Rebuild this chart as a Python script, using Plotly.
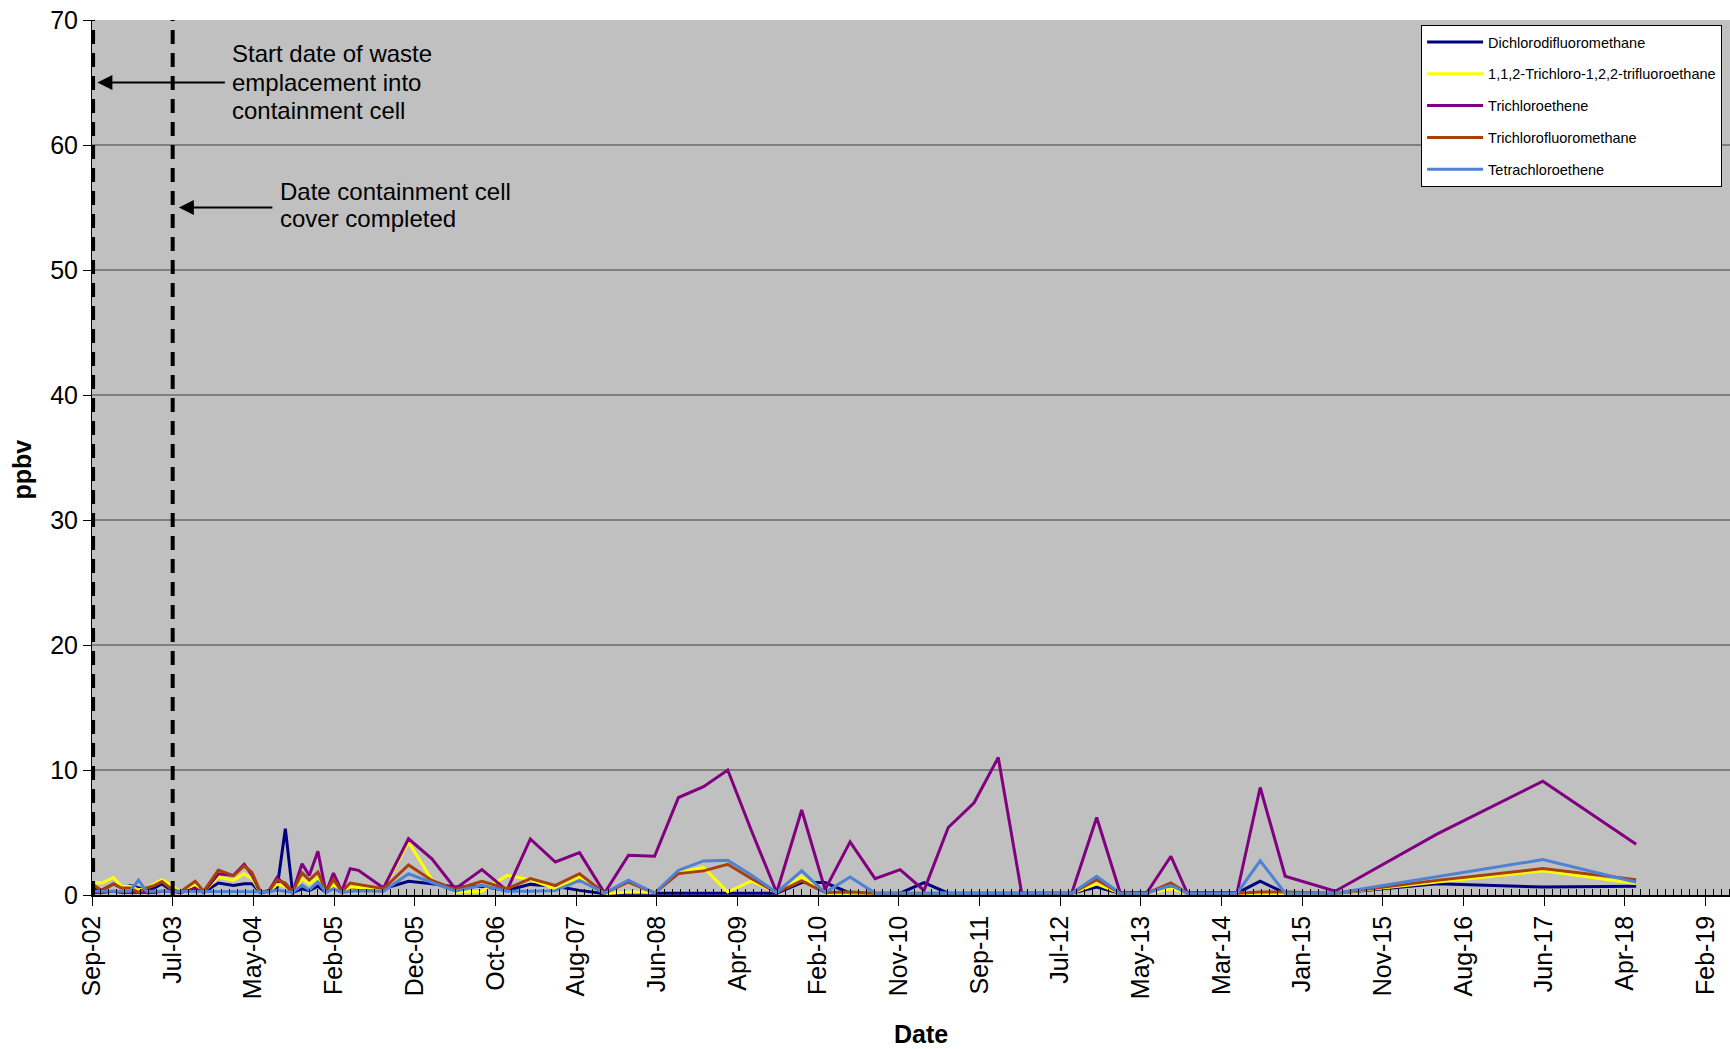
import plotly.graph_objects as go

# Sampling dates (shared by all five compounds)
dates = [
    "2002-09-11", "2002-10-18", "2002-11-30", "2002-12-31", "2003-01-31",
    "2003-03-03", "2003-04-01", "2003-04-30", "2003-05-29", "2003-07-02",
    "2003-08-05", "2003-09-30", "2003-10-31", "2003-12-25", "2004-02-19",
    "2004-03-30", "2004-04-28", "2004-05-29", "2004-06-29", "2004-07-30",
    "2004-08-30", "2004-09-26", "2004-10-31", "2004-11-27", "2004-12-29",
    "2005-01-28", "2005-02-25", "2005-03-28", "2005-04-28", "2005-05-29",
    "2005-08-30", "2005-12-01", "2006-02-26", "2006-05-24", "2006-08-31",
    "2006-12-02", "2007-02-27", "2007-05-31", "2007-08-29", "2007-11-30",
    "2008-02-27", "2008-06-03", "2008-08-31", "2008-12-02", "2009-03-02",
    "2009-05-30", "2009-08-31", "2009-12-02", "2010-02-27", "2010-05-31",
    "2010-09-01", "2010-12-03", "2011-03-02", "2011-05-31", "2011-09-04",
    "2011-12-03", "2012-02-28", "2012-05-31", "2012-09-01", "2012-12-03",
    "2013-02-28", "2013-06-08", "2013-09-05", "2013-11-04", "2014-02-05",
    "2014-05-09", "2014-08-03", "2014-11-04", "2015-05-09", "2016-05-21",
    "2017-06-19", "2018-06-01",
]

# Concentrations in ppbv
dichlorodifluoromethane = [
    0.48, 0.40, 0.88, 0.56, 0.75, 0.56, 0.40, 0.56, 0.88, 0.40,
    0.20, 0.70, 0.20, 0.96, 0.77, 0.90, 0.90, 0.20, 0.35, 0.50,
    5.30, 0.20, 0.50, 0.35, 0.70, 0.20, 0.60, 0.20, 0.60, 0.55,
    0.50, 1.10, 0.90, 0.64, 0.70, 0.37, 0.85, 0.70, 0.37, 0.10,
    0.15, 0.15, 0.15, 0.15, 0.15, 0.15, 0.15, 1.00, 1.00, 0.15,
    0.15, 0.15, 0.99, 0.15, 0.15, 0.15, 0.15, 0.15, 0.15, 0.64,
    0.15, 0.15, 0.64, 0.15, 0.15, 0.15, 1.10, 0.15, 0.15, 0.90,
    0.64, 0.70,
]
trichlorotrifluoroethane = [
    1.01, 0.96, 1.40, 0.67, 0.69, 0.40, 0.56, 0.88, 1.23, 0.83,
    0.25, 0.85, 0.25, 1.44, 1.17, 1.70, 1.30, 0.20, 0.25, 0.85,
    0.70, 0.20, 1.30, 0.90, 1.39, 0.20, 0.77, 0.20, 0.64, 0.60,
    0.50, 4.24, 1.20, 0.24, 0.29, 1.57, 1.23, 0.50, 1.44, 0.10,
    0.24, 0.20, 1.80, 2.20, 0.24, 1.12, 0.20, 1.50, 0.15, 0.15,
    0.15, 0.15, 0.15, 0.15, 0.15, 0.15, 0.15, 0.15, 0.15, 0.90,
    0.15, 0.15, 0.50, 0.15, 0.15, 0.15, 0.15, 0.15, 0.15, 1.04,
    1.93, 0.91,
]
trichloroethene = [
    0.20, 0.20, 0.30, 0.20, 0.20, 0.20, 0.20, 0.20, 0.30, 0.30,
    0.20, 0.50, 0.20, 1.70, 1.57, 2.45, 1.60, 0.20, 0.30, 1.39,
    0.80, 0.20, 2.50, 1.57, 3.50, 0.20, 1.76, 0.30, 2.10, 1.97,
    0.56, 4.50, 2.90, 0.50, 2.03, 0.37, 4.48, 2.64, 3.39, 0.15,
    3.18, 3.10, 7.80, 8.66, 10.00, 5.10, 0.20, 6.80, 0.43, 4.25,
    1.31, 2.03, 0.37, 5.40, 7.38, 11.00, 0.16, 0.15, 0.15, 6.20,
    0.20, 0.20, 3.10, 0.20, 0.20, 0.20, 8.60, 1.50, 0.30, 4.87,
    9.10, 4.06,
]
trichlorofluoromethane = [
    0.88, 0.35, 0.88, 0.56, 0.56, 0.21, 0.56, 0.75, 1.07, 0.48,
    0.25, 1.10, 0.30, 2.00, 1.55, 2.32, 1.80, 0.25, 0.30, 1.20,
    0.96, 0.25, 1.78, 1.20, 1.84, 0.25, 1.25, 0.25, 0.96, 0.85,
    0.50, 2.40, 1.17, 0.45, 1.09, 0.50, 1.31, 0.77, 1.70, 0.15,
    1.04, 0.16, 1.71, 1.93, 2.46, 1.30, 0.20, 1.12, 0.20, 0.24,
    0.15, 0.15, 0.15, 0.15, 0.15, 0.15, 0.15, 0.15, 0.15, 1.23,
    0.15, 0.15, 0.96, 0.15, 0.15, 0.15, 0.24, 0.24, 0.15, 1.17,
    2.11, 1.23,
]
tetrachloroethene = [
    0.30, 0.30, 0.30, 0.30, 0.30, 1.20, 0.30, 0.30, 0.30, 0.30,
    0.25, 0.25, 0.25, 0.25, 0.25, 0.25, 0.25, 0.25, 0.25, 0.40,
    0.30, 0.20, 0.80, 0.40, 1.05, 0.20, 0.50, 0.20, 0.30, 0.35,
    0.30, 1.70, 1.00, 0.30, 0.77, 0.30, 0.30, 0.35, 1.17, 0.15,
    1.18, 0.16, 1.98, 2.73, 2.78, 1.58, 0.20, 1.93, 0.20, 1.44,
    0.15, 0.15, 0.15, 0.15, 0.15, 0.15, 0.15, 0.15, 0.15, 1.50,
    0.15, 0.15, 0.78, 0.15, 0.15, 0.15, 2.73, 0.15, 0.15, 1.44,
    2.83, 1.02,
]

series_names = [
    "Dichlorodifluoromethane",
    "1,1,2-Trichloro-1,2,2-trifluoroethane",
    "Trichloroethene",
    "Trichlorofluoromethane",
    "Tetrachloroethene",
]
series_values = [
    dichlorodifluoromethane,
    trichlorotrifluoroethane,
    trichloroethene,
    trichlorofluoromethane,
    tetrachloroethene,
]
series_colors = ["#000080", "#FFFF00", "#800080", "#A8400E", "#4F81D4"]

# Milestone dates marked with dashed verticals
waste_start = "2002-09-15"
cover_done = "2003-07-08"

FONT = "Liberation Sans, Arial, sans-serif"
DAY_MS = 86400000

fig = go.Figure()
for i, (name, vals, col) in enumerate(zip(series_names, series_values, series_colors)):
    fig.add_trace(go.Scatter(
        x=dates, y=vals, name=name, mode="lines",
        line=dict(color=col, width=3),
        legendgroup=f"g{i}",
    ))

# Dashed milestone lines
for d in (waste_start, cover_done):
    fig.add_shape(type="line", xref="x", yref="y", x0=d, x1=d, y0=0, y1=70,
                  line=dict(color="black", width=4, dash="14px,9px"), layer="above")

annotations = []
# Arrows pointing at the milestone lines
annotations.append(dict(x="2002-10-01", y=65, xref="x", yref="y", text="",
                        showarrow=True, arrowhead=2, arrowsize=1.5, arrowwidth=2,
                        arrowcolor="black", ax=129, ay=0))
annotations.append(dict(x="2003-07-31", y=55, xref="x", yref="y", text="",
                        showarrow=True, arrowhead=2, arrowsize=1.5, arrowwidth=2,
                        arrowcolor="black", ax=95, ay=0))
# Milestone labels, one line each
label1 = ["Start date of waste", "emplacement into", "containment cell"]
for txt, yv in zip(label1, [67.3, 65.0, 62.8]):
    annotations.append(dict(x=0.0842, y=yv, xref="paper", yref="y", text=txt,
                            showarrow=False, xanchor="left", yanchor="middle",
                            font=dict(family=FONT, size=24, color="black")))
label2 = ["Date containment cell", "cover completed"]
for txt, yv in zip(label2, [56.3, 54.1]):
    annotations.append(dict(x=0.1138, y=yv, xref="paper", yref="y", text=txt,
                            showarrow=False, xanchor="left", yanchor="middle",
                            font=dict(family=FONT, size=24, color="black")))
# Axis titles
annotations.append(dict(x=0.5062, y=-0.159, xref="paper", yref="paper", text="<b>Date</b>",
                        showarrow=False, xanchor="center", yanchor="middle",
                        font=dict(family=FONT, size=25, color="black")))
annotations.append(dict(x=-0.0425, y=0.4867, xref="paper", yref="paper", text="<b>ppbv</b>",
                        showarrow=False, xanchor="center", yanchor="middle", textangle=-90,
                        font=dict(family=FONT, size=25, color="black")))

fig.update_layout(
    width=1730, height=1049,
    margin=dict(l=92, r=0, t=20, b=154, autoexpand=False),
    plot_bgcolor="#C0C0C0", paper_bgcolor="white",
    font=dict(family=FONT, color="black"),
    annotations=annotations,
    legend=dict(
        x=0.8114, y=0.9943, xanchor="left", yanchor="top",
        bgcolor="white", bordercolor="black", borderwidth=1,
        font=dict(family=FONT, size=14.5, color="black"),
        tracegroupgap=10, itemwidth=56, traceorder="grouped",
    ),
)

fig.update_xaxes(
    type="date", range=["2002-09-11", "2019-05-16"],
    tick0="2002-09-11", dtick=300 * DAY_MS, tickformat="%b-%y",
    tickangle=-90, ticks="outside", ticklen=9, tickwidth=1, tickcolor="black",
    tickfont=dict(family=FONT, size=25, color="black"),
    showgrid=False, zeroline=False, showline=True, linecolor="black", linewidth=1.5,
    minor=dict(ticks="inside", dtick=30 * DAY_MS, tick0="2002-09-11",
               ticklen=6, tickcolor="black", showgrid=False),
)
fig.update_yaxes(
    range=[0, 70], dtick=10, ticks="outside", ticklen=8, tickcolor="black",
    tickfont=dict(family=FONT, size=25, color="black"),
    showgrid=True, gridcolor="#808080", gridwidth=1.5,
    zeroline=False, showline=True, linecolor="black", linewidth=1,
)

fig.write_html("out.html")
